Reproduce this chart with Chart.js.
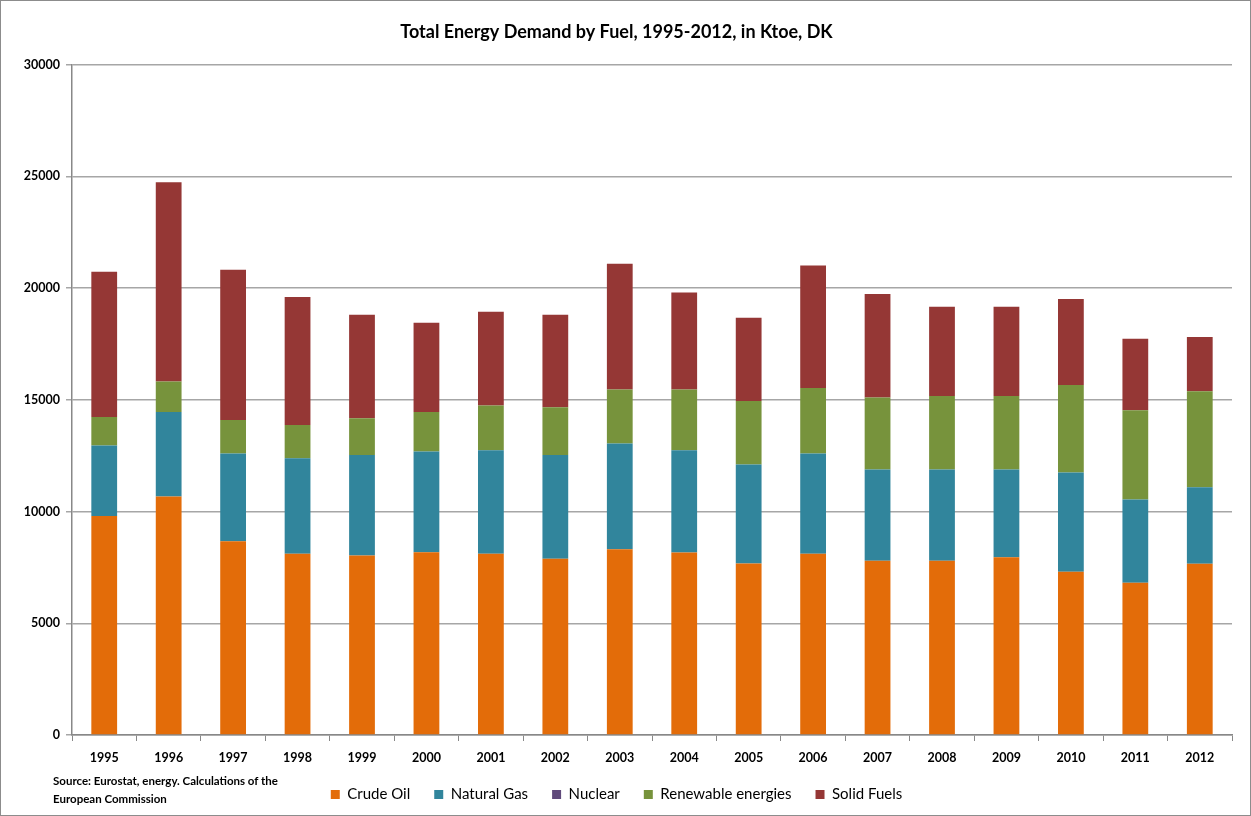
<!DOCTYPE html>
<html>
<head>
<meta charset="utf-8">
<script src="https://cdn.jsdelivr.net/npm/chart.js@4/dist/chart.umd.min.js"></script>
<style>
    html, body { margin: 0; padding: 0; background: #fff; }
    #wrap { position: relative; width: 1251px; height: 816px; box-sizing: border-box; border: 1px solid #8c8c8c; }
    #myChart { position: absolute; left: 0; top: 0; }
    #source { position: absolute; left: 52px; top: 771px; font: bold 11.5px Lato, sans-serif; line-height: 18px; color: #000; }
</style>
</head>
<body>
<div id="wrap">
    <canvas id="myChart" width="1249" height="814"></canvas>
    <div id="source">Source: Eurostat, energy. Calculations of the<br>European Commission</div>
</div>
<script>
// years on the x axis
const years = ['1995', '1996', '1997', '1998', '1999', '2000', '2001', '2002', '2003',
    '2004', '2005', '2006', '2007', '2008', '2009', '2010', '2011', '2012'];

// values in ktoe
const crudeOil = [9805, 10672, 8674, 8106, 8034, 8182, 8106, 7883, 8316,
    8167, 7676, 8106, 7794, 7794, 7958, 7303, 6810, 7660];
const naturalGas = [3150, 3783, 3921, 4279, 4500, 4502, 4636, 4651, 4727,
    4575, 4427, 4489, 4086, 4086, 3922, 4443, 3728, 3428];
const nuclear = [0, 0, 0, 0, 0, 0, 0, 0, 0, 0, 0, 0, 0, 0, 0, 0, 0, 0];
const renewables = [1280, 1359, 1503, 1489, 1640, 1771, 1999, 2131, 2413,
    2714, 2843, 2935, 3219, 3292, 3292, 3918, 3993, 4293];
const solidFuels = [6500, 8924, 6724, 5723, 4637, 3997, 4203, 4145, 5634,
    4351, 3730, 5484, 4632, 3995, 3995, 3843, 3205, 2429];

const font = 'Lato, sans-serif';

const ctx = document.getElementById('myChart').getContext('2d');
const myChart = new Chart(ctx, {
    type: 'bar',
    data: {
        labels: years,
        datasets: [
            { label: 'Crude Oil', data: crudeOil, backgroundColor: '#E36C09' },
            { label: 'Natural Gas', data: naturalGas, backgroundColor: '#31859C' },
            { label: 'Nuclear', data: nuclear, backgroundColor: '#604A7B' },
            { label: 'Renewable energies', data: renewables, backgroundColor: '#77933C' },
            { label: 'Solid Fuels', data: solidFuels, backgroundColor: '#953735' }
        ]
    },
    options: {
        responsive: false,
        animation: false,
        categoryPercentage: 1,
        barPercentage: 0.4,
        layout: { padding: { left: 0, right: 18, top: 0, bottom: 3 } },
        plugins: {
            title: {
                display: true,
                text: 'Total Energy Demand by Fuel, 1995-2012, in Ktoe, DK',
                color: '#000',
                font: { family: font, size: 18, weight: 'bold' },
                padding: { top: 20, bottom: 22 }
            },
            legend: {
                position: 'bottom',
                labels: {
                    color: '#000',
                    font: { family: font, size: 15 },
                    boxWidth: 9,
                    boxHeight: 9,
                    padding: 24
                }
            },
            tooltip: { enabled: false }
        },
        scales: {
            x: {
                stacked: true,
                afterFit: function (scale) { scale.height = 28; },
                grid: { drawOnChartArea: false, tickLength: 6, color: '#888', offset: true },
                border: { color: '#888', width: 1.5 },
                ticks: { color: '#000', font: { family: font, size: 12.5, weight: 'bold' }, maxRotation: 0, padding: 9 }
            },
            y: {
                stacked: true,
                min: 0,
                max: 30000,
                afterFit: function (scale) { scale.width = 71; },
                grid: { color: '#a6a6a6', lineWidth: 1.5, tickLength: 6 },
                border: { color: '#888', width: 1.5 },
                ticks: {
                    stepSize: 5000,
                    color: '#000',
                    font: { family: font, size: 12.5, weight: 'bold' },
                    padding: 6,
                    callback: function (value) { return String(value); }
                }
            }
        }
    }
});
</script>
</body>
</html>
